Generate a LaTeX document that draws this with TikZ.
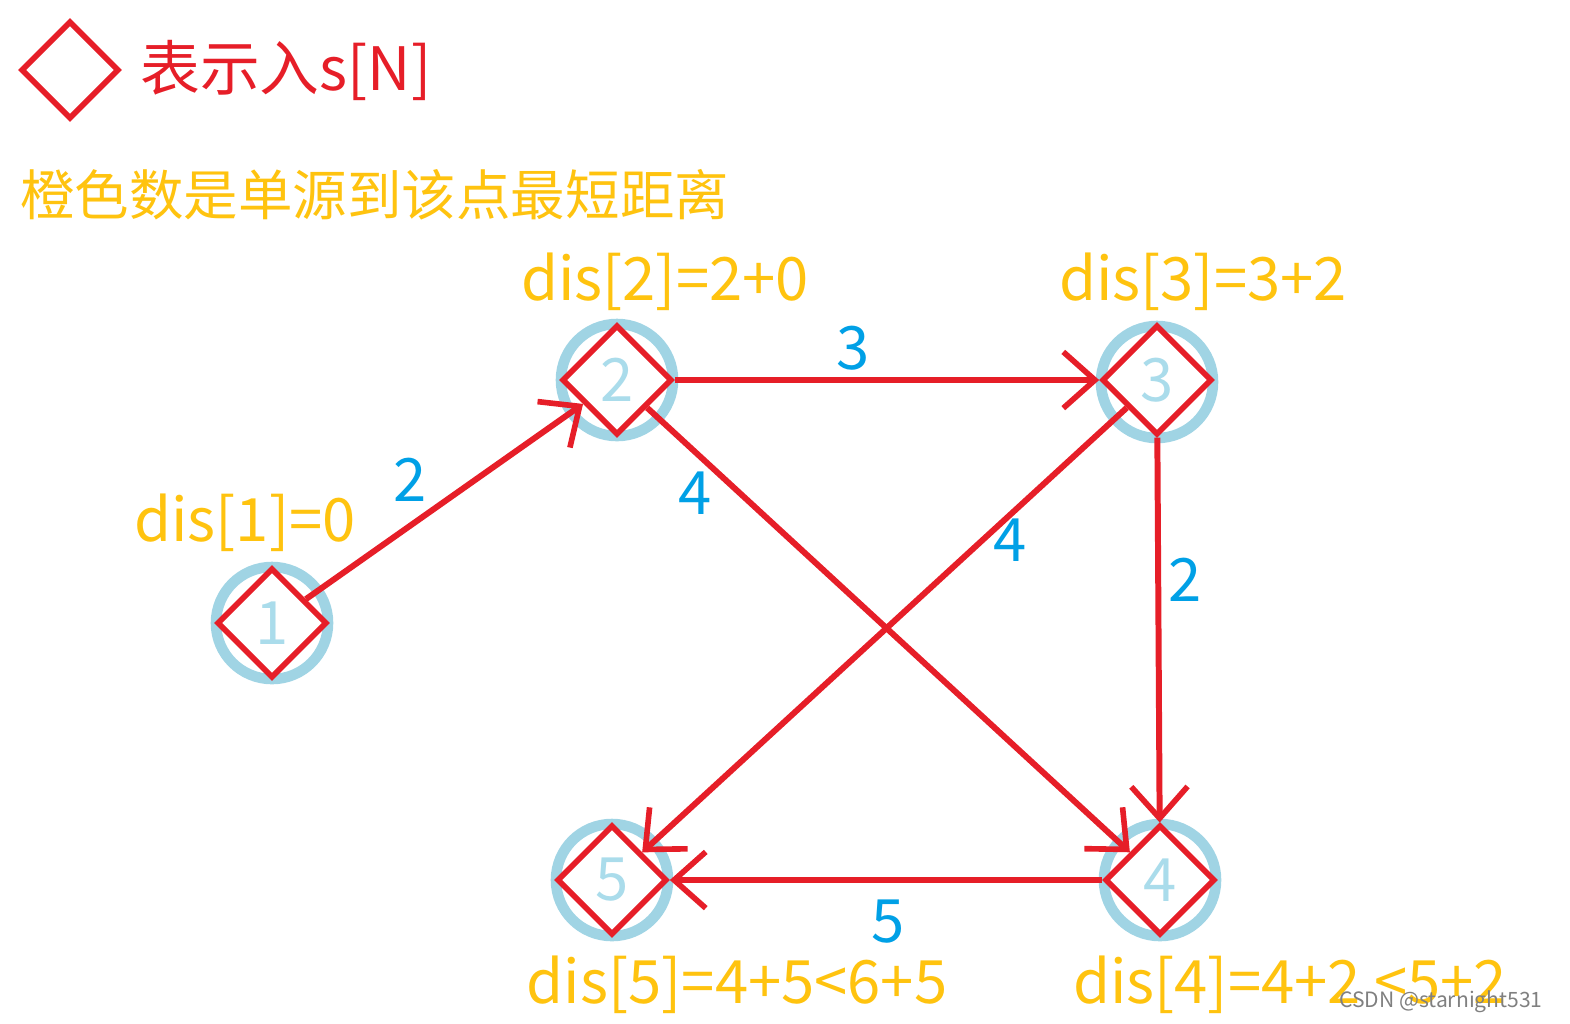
\documentclass[tikz,border=0pt]{standalone}
\usepackage{fontspec}
\setmainfont{Noto Sans CJK SC}
\usetikzlibrary{shapes.geometric,arrows.meta}
\definecolor{cred}{RGB}{230,30,40}
\definecolor{corange}{RGB}{255,195,15}
\definecolor{cblue}{RGB}{0,160,230}
\definecolor{cring}{RGB}{160,212,228}
\definecolor{cnum}{RGB}{170,220,235}
\tikzset{
  dia/.style={shape=diamond,draw=cred,line width=1.6pt,minimum size=1.1cm,inner sep=0pt,text=cnum,font=\fontsize{17}{17}\selectfont,fill=white},
  ring/.style={circle,draw=cring,line width=3pt,minimum size=1.12cm,inner sep=0pt},
  edge/.style={draw=cred,line width=1.7pt,-{Straight Barb[length=9pt,width=16pt,line width=1.6pt]}},
  wlab/.style={text=cblue,font=\fontsize{17}{17}\selectfont},
  dlab/.style={text=corange,font=\fontsize{17}{17}\selectfont}
}
\begin{document}
\begin{tikzpicture}[x=0.01cm,y=-0.01cm]
\useasboundingbox (0,0) rectangle (1570,1023);
\node[ring] (r1) at (272,623) {};
\node[ring] (r2) at (617,380) {};
\node[ring] (r3) at (1157,382) {};
\node[ring] (r4) at (1160,880) {};
\node[ring] (r5) at (612,880) {};
\node[dia] (n1) at (272,623) {1};
\node[dia] (n2) at (617,380) {2};
\node[dia] (n3) at (1157,380) {3};
\node[dia] (n4) at (1160,880) {4};
\node[dia] (n5) at (612,880) {5};
\node[dia,minimum size=0.98cm] (leg) at (70,70) {};
\node[anchor=west,text=cred,font=\fontsize{17}{17}\selectfont] (legt) at (128,70) {表示入s[N]};
\node[anchor=west,text=corange,font=\fontsize{15.5}{15.5}\selectfont] (title) at (8,195) {橙色数是单源到该点最短距离};
\draw[edge] (n1) -- (n2);
\draw[edge] (n2) -- (n3);
\draw[edge] (n2) -- (n4);
\draw[edge] (n3) -- (n5);
\draw[edge] (n3) -- (n4);
\draw[edge] (n4) -- (n5);
\node[wlab] (w12) at (410,480) {2};
\node[wlab] (w23) at (853,348) {3};
\node[wlab] (w24) at (695,493) {4};
\node[wlab] (w35) at (1010,540) {4};
\node[wlab] (w34) at (1185,580) {2};
\node[wlab] (w45) at (888,922) {5};
\node[dlab] (d1) at (245,523) {dis[1]=0};
\node[dlab] (d2) at (665,282) {dis[2]=2+0};
\node[dlab] (d3) at (1203,282) {dis[3]=3+2};
\node[dlab] (d5) at (737,985) {dis[5]=4+5<6+5};
\node[dlab] (d4) at (1290,985) {dis[4]=4+2 <5+2};
\node[text=gray,font=\fontsize{6}{6}\selectfont,anchor=east] (wm) at (1555,1002) {CSDN @starnight531};
\end{tikzpicture}
\end{document}
